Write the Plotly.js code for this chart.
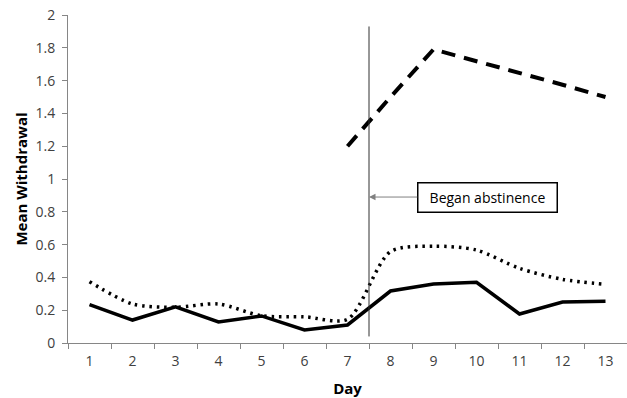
<!DOCTYPE html>
<html>
<head>
<meta charset="utf-8">
<script src="https://cdn.plot.ly/plotly-3.0.1.min.js"></script>
<style>html,body{margin:0;padding:0;background:#fff;}#chart{width:627px;height:398px;}</style>
</head>
<body>
<div id="chart"></div>
<script>
const days = ['1','2','3','4','5','6','7','8','9','10','11','12','13'];
const solidSeries = [0.234, 0.14, 0.22, 0.128, 0.165, 0.08, 0.11, 0.317, 0.36, 0.37, 0.177, 0.25, 0.254];
const dottedSeries = [0.374, 0.238, 0.218, 0.238, 0.166, 0.16, 0.145, 0.557, 0.59, 0.567, 0.455, 0.388, 0.358];
const dashedDays = ['7','8','9','10','11','12','13'];
const dashedSeries = [1.2, 1.5, 1.79, 1.72, 1.65, 1.575, 1.5];
const yTicks = [0, 0.2, 0.4, 0.6, 0.8, 1, 1.2, 1.4, 1.6, 1.8, 2];
const abstinenceAt = 6.5;   // boundary between day 7 and day 8 (category index)
const abstinenceSpan = [0.04, 1.93];
const annotationText = 'Began abstinence';
const annotationY = 0.89;

const font = 'Open Sans, Liberation Sans, sans-serif';

const traces = [
  {x: days, y: dottedSeries, type: 'scatter', mode: 'lines', line: {color: '#000', width: 3.5, dash: '2.5px,4.8px', shape: 'spline', smoothing: 0.8}, hoverinfo: 'none'},
  {x: days, y: solidSeries, type: 'scatter', mode: 'lines', line: {color: '#000', width: 3.5}, hoverinfo: 'none'},
  {x: dashedDays, y: dashedSeries, type: 'scatter', mode: 'lines', line: {color: '#000', width: 4, dash: '14px,9px'}, hoverinfo: 'none'}
];

const layout = {
  width: 627, height: 398,
  margin: {l: 68, r: 0, t: 15, b: 55},
  paper_bgcolor: '#fff', plot_bgcolor: '#fff',
  showlegend: false,
  font: {family: font, size: 14, color: '#404040'},
  xaxis: {
    type: 'category', categoryorder: 'array', categoryarray: days,
    range: [-0.5, 12.5],
    showgrid: false, zeroline: false,
    showline: true, linecolor: '#868686', linewidth: 1,
    ticks: 'outside', ticklen: 5, tickcolor: '#868686', tickson: 'boundaries',
    ticklabelstandoff: 5,
    tickfont: {family: font, size: 14, color: '#404040'},
    title: {text: '<b>Day</b>', font: {family: font, size: 15, color: '#000'}, standoff: 14}
  },
  yaxis: {
    range: [0, 2], tickvals: yTicks, ticktext: yTicks.map(v => String(v)),
    showgrid: false, zeroline: false,
    showline: true, linecolor: '#868686', linewidth: 1,
    ticks: 'outside', ticklen: 5, tickcolor: '#868686',
    ticklabelstandoff: 4,
    tickfont: {family: font, size: 14, color: '#404040'},
    title: {text: '<b>Mean Withdrawal</b>', font: {family: font, size: 15, color: '#000'}, standoff: 4}
  },
  shapes: [
    {type: 'line', xref: 'x', yref: 'y', x0: abstinenceAt, x1: abstinenceAt, y0: abstinenceSpan[0], y1: abstinenceSpan[1], line: {color: '#303030', width: 1}}
  ],
  annotations: [
    {x: abstinenceAt, y: annotationY, xref: 'x', yref: 'y', text: annotationText,
     showarrow: true, arrowhead: 2, arrowsize: 1.3, arrowwidth: 1, arrowcolor: '#808080',
     ax: 118, ay: 0, axref: 'pixel', ayref: 'pixel',
     bordercolor: '#000', borderwidth: 1.5, borderpad: 4, bgcolor: '#fff',
     width: 130, height: 20,
     font: {family: font, size: 14, color: '#000'}}
  ]
};

Plotly.newPlot('chart', traces, layout, {staticPlot: true, displayModeBar: false});
</script>
</body>
</html>
